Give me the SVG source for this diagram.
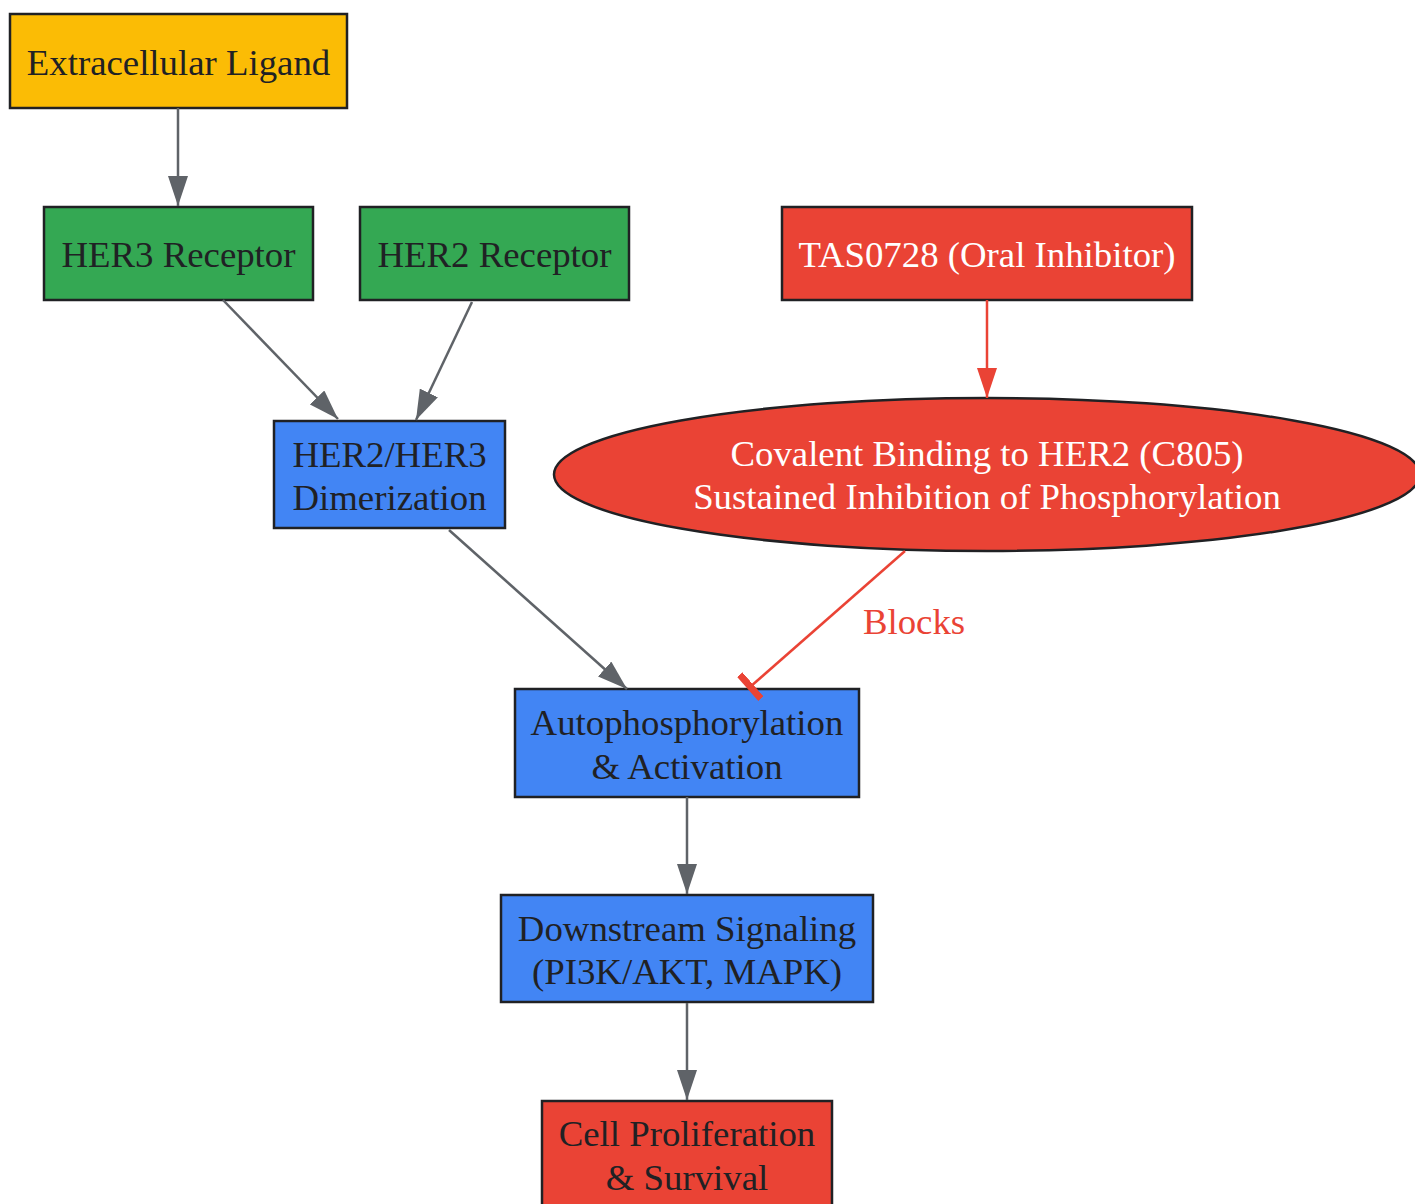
<svg xmlns="http://www.w3.org/2000/svg" width="1415" height="1204" viewBox="0 0 1415 1204">
<style>
.n{stroke:#202124;stroke-width:2.5}
.t{font-family:"Liberation Serif","Times New Roman",serif;font-size:36.8px;fill:#202124;text-anchor:middle}
.w{fill:#ffffff}
.e{fill:none;stroke:#5F6368;stroke-width:2.5}
.r{fill:none;stroke:#EA4335;stroke-width:2.5}
</style>
<defs>
<marker id="ag" markerUnits="userSpaceOnUse" viewBox="0 0 30 20" markerWidth="30" markerHeight="20" refX="30" refY="10" orient="auto">
<path d="M0,0 L30,10 L0,20 z" fill="#5F6368"/>
</marker>
<marker id="ar" markerUnits="userSpaceOnUse" viewBox="0 0 30 20" markerWidth="30" markerHeight="20" refX="30" refY="10" orient="auto">
<path d="M0,0 L30,10 L0,20 z" fill="#EA4335"/>
</marker>
<marker id="tee" markerUnits="userSpaceOnUse" viewBox="0 0 8 32" markerWidth="8" markerHeight="32" refX="4" refY="16" orient="auto">
<rect x="0" y="0" width="7" height="32" fill="#EA4335"/>
</marker>
</defs>
<rect width="1415" height="1204" fill="#ffffff"/>
<g id="ligand">
<rect class="n" x="10" y="14" width="337" height="94" fill="#FBBC05"/>
<text class="t" x="178.5" y="75">Extracellular Ligand</text>
</g>
<g id="her3">
<rect class="n" x="44" y="207" width="269" height="93" fill="#34A853"/>
<text class="t" x="178.5" y="267">HER3 Receptor</text>
</g>
<g id="her2">
<rect class="n" x="360" y="207" width="269" height="93" fill="#34A853"/>
<text class="t" x="494.5" y="267">HER2 Receptor</text>
</g>
<g id="tas">
<rect class="n" x="782" y="207" width="410" height="93" fill="#EA4335"/>
<text class="t w" x="987" y="267">TAS0728 (Oral Inhibitor)</text>
</g>
<g id="covalent">
<ellipse class="n" cx="987" cy="474.5" rx="433" ry="76.5" fill="#EA4335"/>
<text class="t w" x="987" y="466">Covalent Binding to HER2 (C805)</text>
<text class="t w" x="987" y="509">Sustained Inhibition of Phosphorylation</text>
</g>
<g id="dimer">
<rect class="n" x="274" y="421" width="231" height="107" fill="#4285F4"/>
<text class="t" x="389.5" y="467">HER2/HER3</text>
<text class="t" x="389.5" y="510">Dimerization</text>
</g>
<g id="autophos">
<rect class="n" x="515" y="689" width="344" height="108" fill="#4285F4"/>
<text class="t" x="687" y="735">Autophosphorylation</text>
<text class="t" x="687" y="779">&amp; Activation</text>
</g>
<g id="downstream">
<rect class="n" x="501" y="895" width="372" height="107" fill="#4285F4"/>
<text class="t" x="687" y="941">Downstream Signaling</text>
<text class="t" x="687" y="984">(PI3K/AKT, MAPK)</text>
</g>
<g id="prolif">
<rect class="n" x="542" y="1101" width="290" height="108" fill="#EA4335"/>
<text class="t" x="687" y="1146">Cell Proliferation</text>
<text class="t" x="687" y="1190">&amp; Survival</text>
</g>
<g id="edges">
<line class="e" x1="178" y1="108" x2="178" y2="206" marker-end="url(#ag)"/>
<line class="e" x1="223" y1="300" x2="338" y2="419" marker-end="url(#ag)"/>
<line class="e" x1="472" y1="302" x2="416" y2="420" marker-end="url(#ag)"/>
<line class="e" x1="449" y1="530" x2="627" y2="689" marker-end="url(#ag)"/>
<line class="r" x1="987" y1="300" x2="987" y2="398" marker-end="url(#ar)"/>
<line class="r" x1="905" y1="551" x2="750" y2="687" marker-end="url(#tee)"/>
<text class="t" x="914" y="634" style="fill:#EA4335">Blocks</text>
<line class="e" x1="687" y1="797" x2="687" y2="894" marker-end="url(#ag)"/>
<line class="e" x1="687" y1="1003" x2="687" y2="1100" marker-end="url(#ag)"/>
</g>
</svg>
